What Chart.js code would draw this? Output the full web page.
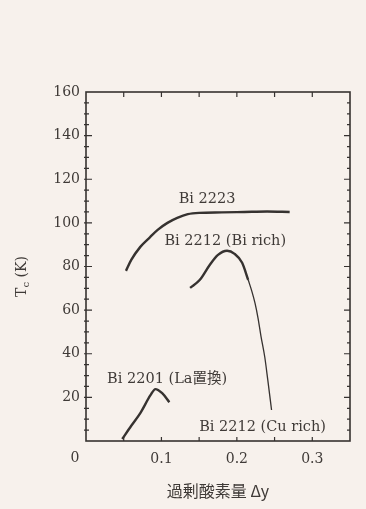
<!DOCTYPE html>
<html>
<head>
<meta charset="utf-8">
<script src="https://cdn.jsdelivr.net/npm/chart.js@4"></script>
<style>
  html, body { margin: 0; padding: 0; background: #f7f1ec; }
  #wrap { width: 366px; height: 509px; }
</style>
</head>
<body>
<div id="wrap"><canvas id="tcChart" width="366" height="509"></canvas></div>
<script>
// Tc versus excess oxygen, Bi-based cuprates
const bi2223X = [0.053, 0.060, 0.072, 0.085, 0.095, 0.108, 0.121, 0.135, 0.150, 0.180, 0.210, 0.240, 0.270];
const bi2223Y = [78, 83, 89, 93.5, 96.8, 100, 102.3, 104, 104.6, 104.8, 105, 105.2, 105];

const bi2212BiX = [0.138, 0.151, 0.164, 0.175, 0.187, 0.197, 0.207, 0.215];
const bi2212BiY = [70.2, 73.9, 80.7, 85.3, 87.2, 85.8, 81.7, 73.9];

const bi2212CuX = [0.215, 0.220, 0.224, 0.228, 0.232, 0.237, 0.241, 0.246];
const bi2212CuY = [73.9, 68.5, 63.3, 56.5, 48, 38.5, 28, 14.2];

const bi2201X = [0.048, 0.060, 0.072, 0.0855, 0.092, 0.101, 0.1105];
const bi2201Y = [0.9, 7, 12.8, 21, 23.8, 21.9, 17.8];

const curveNames = ['Bi 2223', 'Bi 2212 (Bi rich)', 'Bi 2201 (La置換)', 'Bi 2212 (Cu rich)'];

const xTicks = [0.1, 0.2, 0.3];
const yTicks = [20, 40, 60, 80, 100, 120, 140, 160];

const INK = '#363230';
const TEXT = '#3f3a37';
const SERIF = '"DejaVu Serif", "Noto Sans CJK JP", serif';

function pts(xs, ys) {
    return xs.map((x, i) => ({ x: x, y: ys[i] }));
}

// where each curve name sits, in data units
const nameSpots = [
    { x: 0.1605, y: 111, align: 'center' },
    { x: 0.104, y: 91.5, align: 'left' },
    { x: 0.028, y: 28.4, align: 'left' },
    { x: 0.150, y: 6.4, align: 'left' }
];

const framePlugin = {
    id: 'frame',
    afterDraw(chart) {
        const ctx = chart.ctx;
        const a = chart.chartArea;
        const xs = chart.scales.x, ys = chart.scales.y;
        ctx.save();
        ctx.strokeStyle = INK;
        ctx.lineWidth = 1.6;
        ctx.strokeRect(a.left, a.top, a.right - a.left, a.bottom - a.top);

        // inward tick marks on all four sides
        ctx.lineWidth = 1.2;
        ctx.beginPath();
        for (let v = 0.05; v < 0.35; v += 0.05) {
            const px = xs.getPixelForValue(v);
            ctx.moveTo(px, a.top); ctx.lineTo(px, a.top + 5);
            ctx.moveTo(px, a.bottom); ctx.lineTo(px, a.bottom - 4);
        }
        for (let v = 5; v < 160; v += 5) {
            const py = ys.getPixelForValue(v);
            const len = v % 20 === 0 ? 6 : 3;
            ctx.moveTo(a.left - 2, py); ctx.lineTo(a.left + len, py);
            ctx.moveTo(a.right, py); ctx.lineTo(a.right - len, py);
        }
        ctx.stroke();

        // curve names
        ctx.fillStyle = TEXT;
        ctx.font = '14.5px ' + SERIF;
        ctx.textBaseline = 'middle';
        curveNames.forEach((name, i) => {
            const s = nameSpots[i];
            ctx.textAlign = s.align;
            ctx.fillText(name, xs.getPixelForValue(s.x), ys.getPixelForValue(s.y));
        });

        // shared origin label
        ctx.font = '14px ' + SERIF;
        ctx.textAlign = 'center';
        ctx.fillText('0', a.left - 11, a.bottom + 17);

        // y title with subscript c
        ctx.translate(22, (a.top + a.bottom) / 2 + 10);
        ctx.rotate(-Math.PI / 2);
        ctx.textAlign = 'left';
        ctx.font = '14px ' + SERIF;
        const wT = ctx.measureText('T').width;
        const wK = ctx.measureText(' (K)').width;
        ctx.font = '10px ' + SERIF;
        const wc = ctx.measureText('c').width;
        const start = -(wT + wc + wK) / 2;
        ctx.font = '14px ' + SERIF;
        ctx.fillText('T', start, 0);
        ctx.fillText(' (K)', start + wT + wc, 0);
        ctx.font = '10px ' + SERIF;
        ctx.fillText('c', start + wT, 4);
        ctx.restore();
    }
};

const bgPlugin = {
    id: 'bg',
    beforeDraw(chart) {
        const ctx = chart.ctx;
        ctx.save();
        ctx.fillStyle = '#f7f1ec';
        ctx.fillRect(0, 0, chart.width, chart.height);
        ctx.restore();
    }
};

const lineStyle = { borderColor: INK, pointRadius: 0, fill: false, cubicInterpolationMode: 'monotone' };

new Chart(document.getElementById('tcChart').getContext('2d'), {
    type: 'line',
    data: {
        datasets: [
            Object.assign({ label: curveNames[0], data: pts(bi2223X, bi2223Y), borderWidth: 2.4 }, lineStyle),
            Object.assign({ label: curveNames[1], data: pts(bi2212BiX, bi2212BiY), borderWidth: 2.4 }, lineStyle),
            Object.assign({ label: curveNames[3], data: pts(bi2212CuX, bi2212CuY), borderWidth: 1.3 }, lineStyle),
            Object.assign({ label: curveNames[2], data: pts(bi2201X, bi2201Y), borderWidth: 2.4 }, lineStyle)
        ]
    },
    options: {
        responsive: false,
        animation: false,
        layout: { padding: { top: 92, right: 16, left: 0, bottom: 0 } },
        plugins: { legend: { display: false }, tooltip: { enabled: false } },
        scales: {
            x: {
                type: 'linear', min: 0, max: 0.35,
                afterFit: s => { s.height = 68; },
                afterBuildTicks: s => { s.ticks = xTicks.map(v => ({ value: v })); },
                grid: { display: false, drawTicks: false },
                border: { display: false },
                ticks: { color: TEXT, font: { family: SERIF, size: 14 }, padding: 10, maxRotation: 0,
                         callback: v => String(v) },
                title: { display: true, text: '過剰酸素量 Δy', color: TEXT,
                         font: { family: '"Noto Sans CJK JP", "DejaVu Serif"', size: 16 },
                         padding: { top: 0, bottom: 8 } }
            },
            y: {
                min: 0, max: 160,
                afterFit: s => { s.width = 86; },
                afterBuildTicks: s => { s.ticks = yTicks.map(v => ({ value: v })); },
                grid: { display: false, drawTicks: false },
                border: { display: false },
                ticks: { color: TEXT, font: { family: SERIF, size: 14 }, padding: 6 }
            }
        }
    },
    plugins: [bgPlugin, framePlugin]
});
</script>
</body>
</html>
